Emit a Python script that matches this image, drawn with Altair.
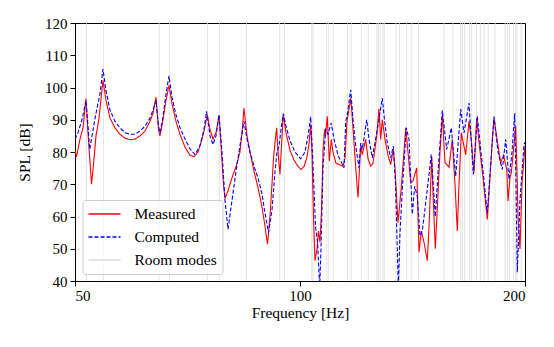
import altair as alt
import pandas as pd

# ---- data ----
meas_f = [50.0, 50.23, 50.78, 51.25, 51.72, 52.04, 52.61, 52.93, 53.34, 53.84,
          54.50, 55.01, 55.69, 56.56, 57.43, 58.33, 59.23, 60.15, 61.09, 62.03,
          63.00, 63.58, 64.17, 64.67, 64.97, 65.57, 66.18, 66.79, 67.41, 68.25,
          69.10, 70.17, 71.26, 72.14, 73.04, 73.94, 74.63, 75.16, 75.79, 76.49,
          77.20, 77.92, 78.40, 79.00, 79.37, 80.11, 81.10, 82.11, 83.12, 83.64,
          84.15, 84.94, 85.72, 86.79, 87.86, 88.95, 89.78, 90.47, 91.17, 91.73,
          92.16, 92.59, 93.07, 93.45, 94.02, 94.46, 94.98, 95.78, 96.97, 98.17,
          99.39, 100.31, 101.24, 102.18, 102.81, 103.35, 103.76, 104.25, 104.73, 105.38,
          105.86, 106.35, 106.85, 107.34, 107.84, 108.17, 108.77, 109.45, 110.12, 110.70,
          111.73, 113.11, 114.16, 114.87, 115.58, 116.90, 117.37, 118.10, 118.83, 119.56,
          120.56, 121.16, 122.43, 123.30, 124.33, 125.22, 126.65, 127.55, 128.22, 128.86,
          129.93, 131.14, 132.23, 133.30, 134.00, 135.24, 136.50, 137.76, 138.49, 139.47,
          140.63, 141.63, 143.26, 144.28, 145.31, 146.52, 148.02, 149.02, 150.04, 150.78,
          151.71, 152.98, 153.92, 155.11, 155.83, 156.31, 158.25, 159.87, 161.20, 162.35,
          163.20, 164.36, 166.61, 168.31, 169.50, 170.92, 172.35, 173.57, 175.73, 178.07,
          179.56, 180.67, 181.78, 183.47, 185.57, 187.19, 189.04, 189.80, 190.97, 191.74,
          192.92, 194.35, 195.31, 195.73, 196.94, 198.16, 200.0]
meas_db = [80.5, 78.5, 84, 87.5, 96.5, 86, 70, 76, 85, 90.5,
           102.2, 96, 90.5, 87.5, 85.5, 84.3, 83.8, 84, 85, 86.5,
           89.5, 92, 97, 87, 85, 90, 96, 100.7, 95, 89.5,
           85.5, 81.5, 79, 78.5, 80, 84, 88, 91.6, 87, 84,
           86, 91.3, 82, 70, 65.5, 68, 72, 75.5, 80, 86,
           93.6, 85, 80, 74, 69, 63, 57, 51.4, 60, 70,
           78, 83, 87.5, 80, 73, 82, 91.6, 86, 80.5, 77.5,
           75.5, 74.6, 75.5, 78.5, 82.5, 88.5, 80, 60, 46.3, 50,
           55.5, 52, 62, 80, 87, 85, 91.1, 77.2, 83.9, 80,
           76.5, 76, 75.5, 78, 89.5, 96.7, 92, 82.8, 74, 65.9,
           81.8, 79.2, 83.9, 78, 75.6, 76.5, 84.9, 93.3, 83.9, 90.0,
           84, 79, 76.1, 80.8, 75, 58.1, 68, 80, 87.5, 80,
           70.5, 71, 75.1, 48.9, 55.5, 52, 46.3, 60, 78.7, 65,
           50, 67, 80, 91.6, 82, 76.7, 75.3, 83.9, 70, 55.5,
           70, 85.9, 79.2, 89.5, 84, 73.6, 90.5, 83, 72, 59.1,
           72, 82, 90.5, 84, 76.7, 79, 74.6, 64.8, 72, 73.6,
           80, 88, 70, 60, 49.9, 70, 82]

comp_f = [50.0, 50.46, 51.09, 51.72, 52.04, 52.32, 52.69, 53.34, 54.00, 54.50,
          55.01, 55.69, 56.56, 57.43, 58.33, 59.23, 60.15, 61.09, 62.03, 63.00,
          63.58, 64.17, 64.67, 64.97, 65.57, 66.18, 66.79, 67.41, 68.25, 69.10,
          70.17, 71.26, 72.37, 73.49, 74.40, 74.98, 75.79, 76.49, 77.20, 77.92,
          78.64, 79.37, 80.11, 81.10, 82.11, 83.12, 84.15, 84.94, 85.72, 86.79,
          87.86, 88.95, 89.78, 90.76, 91.73, 92.59, 93.16, 93.74, 94.32, 94.98,
          95.78, 96.97, 98.47, 100.22, 101.55, 102.50, 103.35, 104.09, 104.89, 105.54,
          106.26, 106.68, 107.34, 108.24, 109.01, 110.12, 111.04, 112.42, 114.52, 115.12,
          115.69, 116.90, 117.74, 118.72, 119.93, 120.56, 121.16, 122.81, 123.68, 124.95,
          126.89, 128.86, 129.73, 130.86, 132.23, 133.30, 134.21, 135.38, 136.08, 137.05,
          138.75, 139.91, 141.33, 142.38, 143.53, 144.73, 145.76, 147.43, 149.85, 151.71,
          153.12, 155.02, 157.13, 159.38, 161.55, 164.06, 165.74, 168.31, 170.55, 172.67,
          174.65, 178.07, 181.78, 184.04, 186.49, 188.46, 190.38, 192.15, 193.76, 194.53,
          195.31, 196.94, 199.38, 200.0]
comp_db = [84, 86, 90, 96, 88, 80.8, 85, 92, 98, 105.7,
           99, 93, 89.5, 87.5, 86, 85.5, 85.5, 86.5, 88, 90.5,
           93, 96, 88, 86, 91, 98, 103.6, 97, 91.5, 87.5,
           84, 81, 79.2, 82, 87, 92.6, 85, 82.3, 85, 91.6,
           80, 65, 56.1, 65, 74, 82, 89.5, 84, 80, 75.6,
           72, 67, 61, 55, 62, 74, 80, 81.8, 87, 91.9,
           88, 83.5, 80, 77.9, 80, 85, 90.9, 76, 57, 52,
           38, 50, 75, 87, 85.5, 89, 84, 79, 75.1, 89.5,
           91.6, 99.3, 90, 81.8, 75.1, 82.8, 80.8, 90, 84, 78.2,
           87, 96.7, 90, 82.8, 78.2, 81.8, 70, 38, 55, 68.4,
           87.5, 83.9, 60.7, 69.4, 66.3, 54, 55.5, 65, 79.2, 60,
           75, 92.9, 80.8, 87.5, 72.5, 93.3, 85.9, 95.2, 73, 91.1,
           80, 61.2, 91.1, 80, 74.6, 83.9, 71.5, 80, 92.1, 70,
           42.7, 65, 82.3, 83]

mode_f = [51.8, 54.6, 64.8, 66.9, 75.2, 78.0, 84.8, 93.9, 95.3, 103.7,
          104.1, 108.6, 109.2, 110.8, 115.8, 117.1, 120.9, 123.4, 126.7, 127.3,
          128.0, 129.1, 129.7, 134.4, 135.9, 138.9, 141.1, 144.1, 155.8, 160.2,
          164.1, 165.0, 166.0, 168.6, 169.6, 172.2, 174.4, 176.3, 178.6, 182.4,
          188.1, 189.5, 190.7, 193.1, 194.2, 195.1, 197.6]

series_names = ["Measured", "Computed", "Room modes"]
series_colors = ["#ff0000", "#0000ff", "#dddddd"]
series_dash = [[1, 0], [4, 2], [1, 0]]
x_ticks = [50, 100, 200]
y_ticks = [40, 50, 60, 70, 80, 90, 100, 110, 120]

meas = pd.DataFrame({"freq": meas_f, "spl": meas_db, "series": "Measured"})
comp = pd.DataFrame({"freq": comp_f, "spl": comp_db, "series": "Computed"})
modes = pd.DataFrame({"freq": mode_f, "series": "Room modes"})

FONT = "Times New Roman, Liberation Serif, serif"

x_enc = alt.X("freq:Q",
              scale=alt.Scale(type="log", domain=[50, 200], nice=False),
              axis=alt.Axis(values=x_ticks, format="d", title="Frequency [Hz]",
                            labelFont=FONT, labelFontSize=15, labelPadding=2,
                            titleFont=FONT, titlePadding=2))
y_enc = alt.Y("spl:Q",
              scale=alt.Scale(domain=[40, 120], nice=False),
              axis=alt.Axis(values=y_ticks, title="SPL [dB]", titlePadding=12,
                            labelFont=FONT, labelFontSize=15, labelPadding=3,
                            titleFont=FONT))

legend = alt.Legend(title=None, orient="none", legendX=7.5, legendY=177,
                    fillColor="rgba(255,255,255,0.8)", strokeColor="#cccccc",
                    cornerRadius=3, padding=5, labelFont=FONT, labelFontSize=15.5,
                    labelColor="black", symbolType="M-1,0H3", symbolSize=256,
                    symbolStrokeWidth=1.3, labelOffset=29, rowPadding=5)

color_enc = alt.Color("series:N",
                      scale=alt.Scale(domain=series_names, range=series_colors),
                      legend=legend)
dash_enc = alt.StrokeDash("series:N",
                          scale=alt.Scale(domain=series_names, range=series_dash),
                          legend=legend)

rules = alt.Chart(modes).mark_rule(strokeWidth=0.8).encode(
    x=x_enc, color=color_enc, strokeDash=dash_enc)

red = alt.Chart(meas).mark_line(strokeWidth=1.1, clip=True).encode(
    x=x_enc, y=y_enc, color=color_enc, strokeDash=dash_enc)

blue = alt.Chart(comp).mark_line(strokeWidth=1.1, clip=True).encode(
    x=x_enc, y=y_enc, color=color_enc, strokeDash=dash_enc)

chart = alt.layer(rules, red, blue).properties(
    width=450, height=258,
    autosize=alt.AutoSizeParams(type="none"),
    padding={"left": 67, "top": 15, "right": 21, "bottom": 58},
).configure_view(
    stroke="black", strokeWidth=1
).configure_axis(
    labelFont=FONT, labelFontSize=15, titleFont=FONT, titleFontSize=15.5,
    titleFontWeight="normal", labelColor="black", titleColor="black",
    tickColor="black", domainColor="black", tickSize=5, tickWidth=1,
    grid=False
)

chart.save("out.html", embed_options={"renderer": "svg", "actions": False})
